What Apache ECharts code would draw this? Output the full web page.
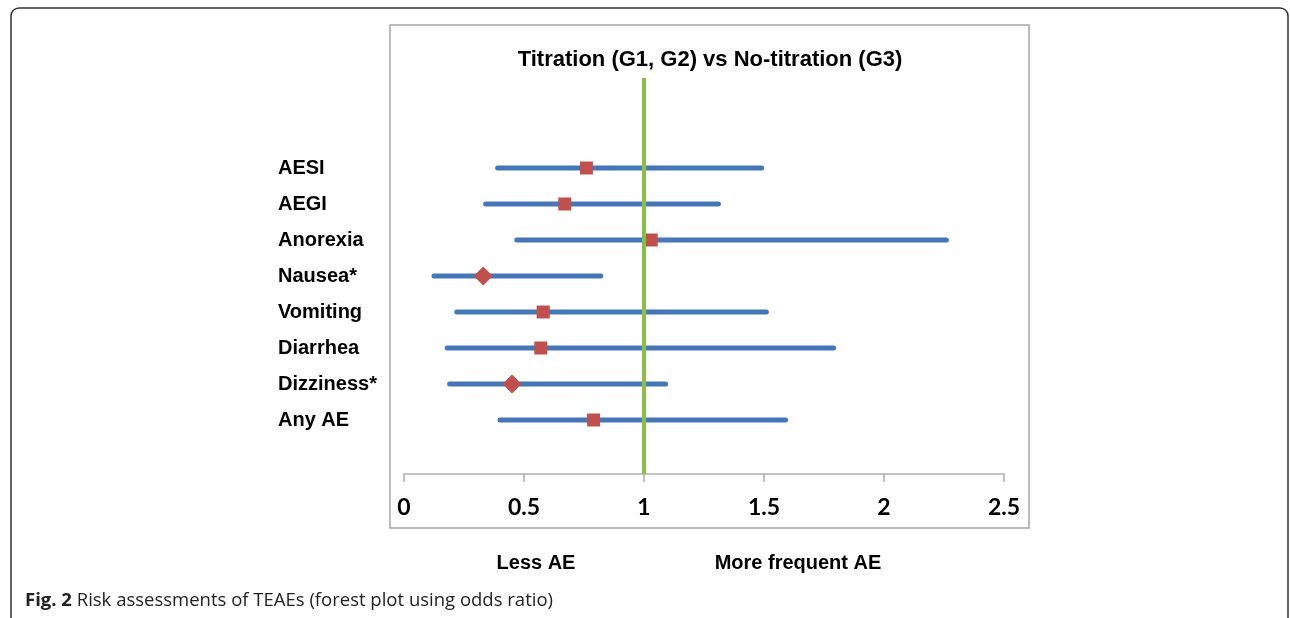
<!DOCTYPE html>
<html>
<head>
<meta charset="utf-8">
<script src="https://cdn.jsdelivr.net/npm/echarts@6/dist/echarts.min.js"></script>
<style>
  html, body { margin: 0; padding: 0; background: #fff; }
  #chart { width: 1290px; height: 618px; }
</style>
</head>
<body>
<div id="chart"></div>
<script>
  // rows, top to bottom as drawn
  var categories = ['AESI', 'AEGI', 'Anorexia', 'Nausea*', 'Vomiting', 'Diarrhea', 'Dizziness*', 'Any AE'];
  var oddsRatio = [0.76, 0.67, 1.03, 0.33, 0.58, 0.57, 0.45, 0.79];
  var ciLow = [0.39, 0.34, 0.47, 0.125, 0.22, 0.18, 0.19, 0.40];
  var ciHigh = [1.49, 1.31, 2.26, 0.82, 1.51, 1.79, 1.09, 1.59];
  var significant = [false, false, false, true, false, false, true, false];
  var xTicks = [0, 0.5, 1, 1.5, 2, 2.5];

  // category axis, bottom to top, with empty slots below and above the rows
  var yCats = [''].concat(categories.slice().reverse(), ['', '']);

  var ciData = categories.map(function (c, i) {
    return [ciLow[i], ciHigh[i], yCats.indexOf(c)];
  });
  var pointData = categories.map(function (c, i) {
    return significant[i]
      ? { value: [oddsRatio[i], yCats.indexOf(c)], symbol: 'diamond', symbolSize: 19 }
      : { value: [oddsRatio[i], yCats.indexOf(c)], symbol: 'rect', symbolSize: 13 };
  });

  var myChart = echarts.init(document.getElementById('chart'));
  var option = {
    animation: false,
    backgroundColor: '#fff',
    grid: { left: 404, right: 286, top: 78, bottom: 144 },
    xAxis: {
      type: 'value',
      min: xTicks[0],
      max: xTicks[xTicks.length - 1],
      interval: 0.5,
      axisLine: { show: true, lineStyle: { color: '#b0b0b0', width: 1.5 } },
      axisTick: { show: true, length: 8, lineStyle: { color: '#b0b0b0', width: 1.5 } },
      splitLine: { show: false },
      axisLabel: {
        margin: 22,
        color: '#000',
        fontFamily: 'Lato',
        fontWeight: 'bold',
        fontSize: 23
      }
    },
    yAxis: {
      type: 'category',
      data: yCats,
      axisLine: { show: false },
      axisTick: { show: false },
      splitLine: { show: false },
      axisLabel: {
        interval: 0,
        align: 'left',
        margin: 126,
        color: '#000',
        fontFamily: 'Liberation Sans',
        fontWeight: 'bold',
        fontSize: 20
      }
    },
    series: [
      {
        // confidence intervals
        type: 'custom',
        coordinateSystem: 'cartesian2d',
        encode: { x: [0, 1], y: 2 },
        data: ciData,
        renderItem: function (params, api) {
          var a = api.coord([api.value(0), api.value(2)]);
          var b = api.coord([api.value(1), api.value(2)]);
          return {
            type: 'line',
            shape: { x1: a[0], y1: a[1], x2: b[0], y2: b[1] },
            style: { stroke: '#4577b8', lineWidth: 5, lineCap: 'round' }
          };
        },
        z: 2
      },
      {
        // reference line at OR = 1
        type: 'scatter',
        data: [],
        markLine: {
          silent: true,
          symbol: 'none',
          label: { show: false },
          lineStyle: { color: '#8cbd4a', width: 4, type: 'solid' },
          data: [{ xAxis: 1 }]
        },
        z: 3
      },
      {
        type: 'scatter',
        data: pointData,
        itemStyle: { color: '#c0504d', opacity: 1 },
        z: 4
      }
    ],
    graphic: [
      {
        type: 'rect',
        shape: { x: 11, y: 8, width: 1277, height: 622, r: 8 },
        style: { fill: 'none', stroke: '#333', lineWidth: 1.5 },
        silent: true
      },
      {
        type: 'rect',
        shape: { x: 390, y: 25, width: 639, height: 503 },
        style: { fill: 'none', stroke: '#a6a6a6', lineWidth: 1.5 },
        silent: true
      },
      {
        type: 'text',
        x: 710, y: 60,
        style: {
          text: 'Titration (G1, G2) vs No-titration (G3)',
          fill: '#000',
          font: 'bold 22px "Liberation Sans"',
          align: 'center', verticalAlign: 'middle'
        }
      },
      {
        type: 'text',
        x: 536, y: 563,
        style: {
          text: 'Less AE', fill: '#000',
          font: 'bold 20px "Liberation Sans"',
          align: 'center', verticalAlign: 'middle'
        }
      },
      {
        type: 'text',
        x: 798, y: 563,
        style: {
          text: 'More frequent AE', fill: '#000',
          font: 'bold 20px "Liberation Sans"',
          align: 'center', verticalAlign: 'middle'
        }
      },
      {
        type: 'text',
        x: 25, y: 601,
        style: {
          text: '{b|Fig. 2} Risk assessments of TEAEs (forest plot using odds ratio)',
          fill: '#222',
          font: '18.5px "Open Sans"',
          verticalAlign: 'middle',
          rich: {
            b: { font: 'bold 18.5px "Open Sans"', fill: '#222' }
          }
        }
      }
    ]
  };
  myChart.setOption(option);
  window.addEventListener('resize', function () {
    myChart.resize();
  });
</script>
</body>
</html>
